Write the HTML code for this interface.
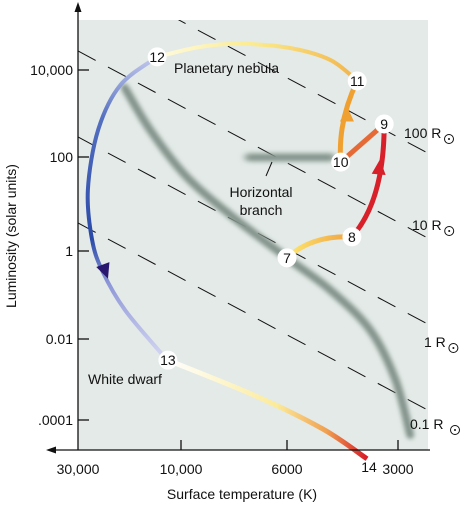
<!DOCTYPE html>
<html><head><meta charset="utf-8"><style>
html,body{margin:0;padding:0;background:#fff;}
svg{display:block;font-family:"Liberation Sans",sans-serif;}
</style></head><body>
<svg id="c" width="463" height="508" viewBox="0 0 463 508">
<defs>
<filter id="blur" x="-20%" y="-20%" width="140%" height="140%"><feGaussianBlur stdDeviation="2.2"/></filter>
<filter id="blurH" filterUnits="userSpaceOnUse" x="180" y="120" width="220" height="80"><feGaussianBlur stdDeviation="3.5 2.5"/></filter>
<linearGradient id="gBlue" gradientUnits="userSpaceOnUse" x1="0" y1="57" x2="0" y2="360"><stop offset="0" stop-color="#c3c8ec"/><stop offset="0.2" stop-color="#5570c0"/><stop offset="0.6" stop-color="#2a4aa8"/><stop offset="0.75" stop-color="#8f98d8"/><stop offset="1" stop-color="#d6d8f2"/></linearGradient>
<linearGradient id="gTop" gradientUnits="userSpaceOnUse" x1="157" y1="0" x2="357" y2="0"><stop offset="0" stop-color="#fffbe0"/><stop offset="0.5" stop-color="#fbea8c"/><stop offset="1" stop-color="#f2b44a"/></linearGradient>
<linearGradient id="gWD" gradientUnits="userSpaceOnUse" x1="168" y1="0" x2="366" y2="0"><stop offset="0" stop-color="#ffffff"/><stop offset="0.55" stop-color="#fbeb9a"/><stop offset="0.8" stop-color="#f0a050"/><stop offset="1" stop-color="#d81e28"/></linearGradient>
<linearGradient id="g78" gradientUnits="userSpaceOnUse" x1="287" y1="0" x2="352" y2="0"><stop offset="0" stop-color="#fde770"/><stop offset="1" stop-color="#f0a040"/></linearGradient>
</defs>
<rect x="78" y="20" width="350" height="430" fill="#e3eae7"/>
<clipPath id="clip"><rect x="78" y="20" width="350" height="430"/></clipPath>
<g id="radius" clip-path="url(#clip)"></g>
<g id="tracks"></g>
<g id="axes"></g>
<g id="labels"></g>
</svg>
<script>
const xTickVals=[30000,10000,6000,3000];
const xTickLabels=["30,000","10,000","6000","3000"];
const yTickVals=[10000,100,1,0.01,0.0001];
const yTickLabels=["10,000","100","1","0.01",".0001"];
const radii=[100,10,1,0.1];
const radiusLabels=["100 R","10 R","1 R","0.1 R"];
const stages=[7,8,9,10,11,12,13,14];
const stageT=[6000,4000,3270,4290,3870,12900,11500,3640];
const stageL=[0.7,2,575,78,5600,20000,0.003,0.000011];
const msT=[18200,13900,9800,7890,6000,4580,3570,3050,2780];
const msL=[3870,420,41,5.9,0.7,0.13,0.016,0.001,0.000043];
const hbT=[7350,4450];const hbL=[98,98];
const pnT=[12900,9120,7520,5890,4580,3870];
const pnL=[20000,34000,40000,32000,17000,5600];
const wdT=[12900,19100,24200,27000,25800,23000,18200,12500,11500];
const wdL=[20000,4500,420,20,1.7,0.33,0.046,0.0048,0.003];
const coolT=[11500,7000,4800,3640];
const coolL=[0.003,0.0004,0.00006,0.000011];

const xPx=[78,181,287,398], yPx=[70,157,251,339,420];
function interp(v,vals,px){const lv=Math.log10(v),lvs=vals.map(Math.log10);
 let i=0;for(;i<lvs.length-2;i++){if((lvs[0]>lvs[1])?lv>lvs[i+1]:lv<lvs[i+1])break;}
 return px[i]+(lv-lvs[i])/(lvs[i+1]-lvs[i])*(px[i+1]-px[i]);}
const X=t=>interp(t,xTickVals,xPx), Y=l=>interp(l,yTickVals,yPx);
const NS="http://www.w3.org/2000/svg";
function mk(tag,attrs,parent){const e=document.createElementNS(NS,tag);for(const k in attrs)e.setAttribute(k,attrs[k]);parent.appendChild(e);return e;}
function cr(p){let d="M"+p[0][0]+","+p[0][1];for(let i=0;i<p.length-1;i++){const p0=p[i-1]||p[i],p1=p[i],p2=p[i+1],p3=p[i+2]||p2;
 d+=` C${p1[0]+(p2[0]-p0[0])/6},${p1[1]+(p2[1]-p0[1])/6} ${p2[0]-(p3[0]-p1[0])/6},${p2[1]-(p3[1]-p1[1])/6} ${p2[0]},${p2[1]}`;}return d;}
const pts=(T,L)=>T.map((t,i)=>[X(t),Y(L[i])]);

const rg=document.getElementById('radius');
const slope=0.535, rOff=[11,9,1,-1];
radii.forEach((r,i)=>{const ax=X(5780), ay=Y(r*r)+rOff[i];
 const x1=78,x2=428;
 const e=mk('line',{x1:x1,y1:ay+(x1-ax)*slope,x2:x2,y2:ay+(x2-ax)*slope,stroke:'#111','stroke-width':1,'stroke-dasharray':'20 14'},rg);
 
 });

const tg=document.getElementById('tracks');
let e;
e=mk('path',{d:cr(pts(msT,msL)),fill:'none',stroke:'#84948d','stroke-width':8,filter:'url(#blur)','stroke-linecap':'round'},tg);


const hb=pts(hbT,hbL);
e=mk('rect',{x:hb[0][0],y:hb[0][1]-4,width:hb[1][0]-hb[0][0],height:8,rx:4,fill:'#84948d',filter:'url(#blurH)'},tg);


e=mk('path',{d:cr(pts(wdT,wdL)),fill:'none',stroke:'url(#gBlue)','stroke-width':4},tg);


e=mk('path',{d:cr(pts(pnT,pnL)),fill:'none',stroke:'url(#gTop)','stroke-width':4},tg);


e=mk('path',{d:cr(pts(coolT,coolL)),fill:'none',stroke:'url(#gWD)','stroke-width':5},tg);


const S=n=>[X(stageT[stages.indexOf(n)]),Y(stageL[stages.indexOf(n)])];
const s7=S(7),s8=S(8),s9=S(9),s10=S(10),s11=S(11);
e=mk('path',{d:`M${s7[0]},${s7[1]} Q${s7[0]+25},${s8[1]-2} ${s8[0]},${s8[1]}`,fill:'none',stroke:'url(#g78)','stroke-width':5},tg);


e=mk('path',{d:`M${s8[0]},${s8[1]} Q${s9[0]},${(s8[1]+s9[1])/2+20} ${s9[0]},${s9[1]}`,fill:'none',stroke:'#d8202a','stroke-width':5},tg);


e=mk('path',{d:`M${s9[0]},${s9[1]} L${s10[0]},${s10[1]}`,fill:'none',stroke:'#e66a35','stroke-width':5},tg);


e=mk('path',{d:`M${s10[0]},${s10[1]} Q${s10[0]-3},${(s10[1]+s11[1])/2} ${s11[0]},${s11[1]}`,fill:'none',stroke:'#f0a030','stroke-width':5},tg);


function tri(x,y,ang,col,name){const a=mk('polygon',{points:"0,-9 7,6 -7,6",fill:col,transform:`translate(${x},${y}) rotate(${ang})`},tg);
 
 }
tri((s10[0]+s11[0])/2-2,(s10[1]+s11[1])/2-6,0,'#f0a030','arrow-10-11');
tri(s9[0]-5,(s8[1]+s9[1])/2-12,5,'#d8202a','arrow-8-9');
const wp=pts(wdT,wdL);tri(wp[5][0]+2,wp[5][1]-2,160,'#2a1770','arrow-white-dwarf');

stages.forEach((n,i)=>{const p=[X(stageT[i]),Y(stageL[i])];
 const g=mk('g',{},tg);
 
 
 mk('circle',{cx:p[0],cy:p[1],r:n==14?0:9.5,fill:'#fff'},g);
 const t=mk('text',{x:p[0]+(n==14?2:0),y:p[1]+5+(n==14?8:0),'text-anchor':'middle','font-size':14,fill:'#111'},g);t.textContent=n;});

const ag=document.getElementById('axes');
e=mk('line',{x1:78,y1:450,x2:78,y2:10,stroke:'#111','stroke-width':1.3},ag);

e=mk('polygon',{points:"78,2 74.5,12 81.5,12",fill:'#111'},ag);

e=mk('line',{x1:55,y1:450,x2:430,y2:450,stroke:'#111','stroke-width':1.3},ag);

e=mk('polygon',{points:"46,450 56,446.5 56,453.5",fill:'#111'},ag);

yTickVals.forEach((v,i)=>{const y=Y(v);
 e=mk('line',{x1:78,y1:y,x2:89,y2:y,stroke:'#111','stroke-width':1.3},ag);
 
 e=mk('text',{x:73,y:y+5,'text-anchor':'end','font-size':14,fill:'#111'},ag);e.textContent=yTickLabels[i];
 });
xTickVals.forEach((v,i)=>{const x=X(v);
 if(i>0){e=mk('line',{x1:x,y1:440,x2:x,y2:450,stroke:'#111','stroke-width':1.3},ag);
 }
 e=mk('text',{x:x,y:474,'text-anchor':'middle','font-size':14,fill:'#111'},ag);e.textContent=xTickLabels[i];
 });

const lg=document.getElementById('labels');
function txt(x,y,s,name,anchor){const t=mk('text',{x:x,y:y,'font-size':14,fill:'#111','text-anchor':anchor||'start'},lg);t.textContent=s;
 return t;}
txt(174,73,"Planetary nebula","planetary-nebula-label");
txt(261,197,"Horizontal","horizontal-branch-label","middle");
txt(261,215,"branch","horizontal-branch-label-2","middle");
e=mk('line',{x1:272,y1:162,x2:266,y2:176,stroke:'#111','stroke-width':1},lg);

txt(88,384,"White dwarf","white-dwarf-label");
const rlx=[404,412,424,410],rly=[138,230,347,429];
radiusLabels.forEach((s,i)=>{txt(rlx[i],rly[i],s,'radius-label');
 const w=s.length*7.8+2;
 e=mk('circle',{cx:rlx[i]+w+4,cy:rly[i]+1,r:4.5,fill:'none',stroke:'#111','stroke-width':1},lg);
 
 mk('circle',{cx:rlx[i]+w+4,cy:rly[i]+1,r:1,fill:'#111'},lg);});
txt(242,499,"Surface temperature (K)","x-axis-title","middle");
const yt=txt(0,0,"Luminosity (solar units)","y-axis-title","middle");
yt.setAttribute('transform','translate(16,236) rotate(-90)');
</script>
</body></html>
